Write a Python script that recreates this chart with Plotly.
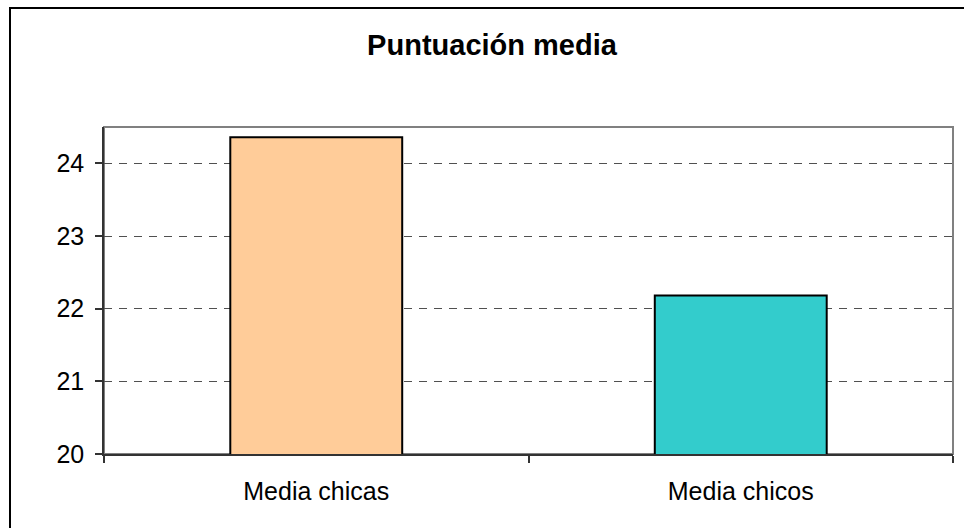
import plotly.graph_objects as go

categories = ["Media chicas", "Media chicos"]
values = [24.36, 22.18]
bar_colors = ["#FFCC99", "#33CCCC"]
y_ticks = [20, 21, 22, 23, 24]
title_text = "Puntuación media"

W, H = 964, 528
L, R, T, B = 104, 953, 127, 454
pw, ph = R - L, B - T

fig = go.Figure()
fig.add_trace(go.Bar(
    x=categories, y=values,
    marker=dict(color=bar_colors, line=dict(color="black", width=2)),
    width=0.405,
))

def px2x(px):
    return (px - L) / pw

def py2y(py):
    return (B - py) / ph

shapes = [
    dict(type="rect", xref="paper", yref="paper", x0=0, x1=1, y0=0, y1=1,
         line=dict(color="#808080", width=2), layer="below"),
    dict(type="rect", xref="paper", yref="paper",
         x0=px2x(10), x1=px2x(975), y0=py2y(540), y1=py2y(8),
         line=dict(color="black", width=2), layer="below"),
]

fig.update_layout(
    width=W, height=H,
    margin=dict(l=L, r=W - R, t=T, b=H - B, pad=0),
    paper_bgcolor="white", plot_bgcolor="white",
    showlegend=False,
    font=dict(family="Liberation Sans, Arial, sans-serif", size=26, color="black"),
    title=dict(text="<b>" + title_text + "</b>", x=492 / W, xref="container", xanchor="center",
               y=1 - 45 / H, yref="container", yanchor="middle",
               font=dict(size=29, color="black")),
    shapes=shapes,
)
fig.update_xaxes(
    type="category", showgrid=False, showline=True, linecolor="#333333", linewidth=1.5,
    ticks="outside", tickson="boundaries", ticklen=7, tickcolor="#333333", tickwidth=1.5,
    ticklabelstandoff=14, tickfont=dict(size=25), range=[-0.5, 1.5],
)
fig.update_yaxes(
    range=[20, 24.5], tickvals=y_ticks, showline=True, linecolor="#333333", linewidth=1.5,
    ticks="outside", ticklen=7, tickcolor="#333333", tickwidth=1.5,
    showgrid=True, gridcolor="#505050", gridwidth=1, griddash="8px,7px",
    ticklabelstandoff=6, tickfont=dict(size=25), zeroline=False,
)

fig.write_html("out.html", config={"displayModeBar": False},
               post_script="document.body.style.margin='0';document.body.style.padding='0';")
